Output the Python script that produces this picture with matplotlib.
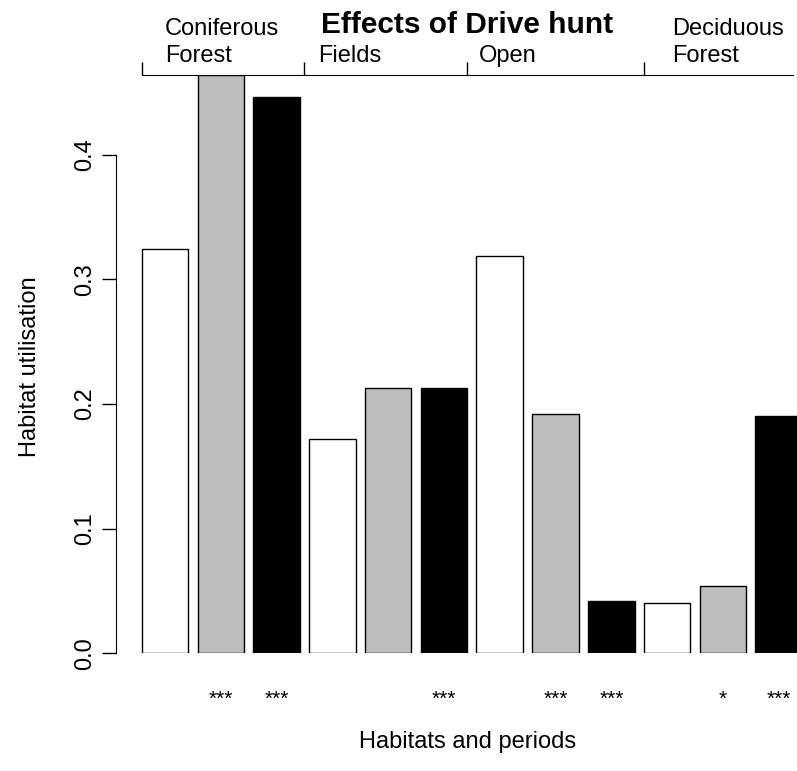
import matplotlib
matplotlib.use("Agg")
import matplotlib.pyplot as plt

# bar heights, 3 periods for each of 4 habitats
heights = [0.324, 0.464, 0.446,
           0.172, 0.213, 0.213,
           0.319, 0.192, 0.042,
           0.040, 0.054, 0.190]
bar_colors = ["white", "#BEBEBE", "black"] * 4
stars = ["", "***", "***", "", "", "***", "", "***", "***", "", "*", "***"]

habitat_ticks = [0.2, 3.7, 7.2, 11.0]
habitat_line1 = ["Coniferous", "", "", "Deciduous"]
habitat_line2 = ["Forest", "Fields", "Open", "Forest"]
habitat_text_x = [0.70, 3.99, 7.45, 11.6]

plt.rcParams["font.family"] = ["Liberation Sans", "DejaVu Sans"]

fig = plt.figure(figsize=(7.97, 7.71), dpi=100)
ax = fig.add_axes([0.1452, 0.1527, 0.882, 0.750])

# R barplot layout: width 1, space 0.2
lefts = [0.2 + 1.2 * i for i in range(len(heights))]
centers = [l + 0.5 for l in lefts]
ax.bar(centers, heights, width=1.0, color=bar_colors, edgecolor="black", linewidth=1.0)

ax.set_xlim(-0.36, 14.76)
ax.set_ylim(0, 0.464)

# left axis
ax.set_yticks([0.0, 0.1, 0.2, 0.3, 0.4])
ax.set_yticklabels(["0.0", "0.1", "0.2", "0.3", "0.4"], rotation=90, va="center", fontsize=17)
ax.tick_params(axis="y", direction="out", length=10, width=1.0, pad=4)
ax.spines["left"].set_bounds(0, 0.4)
ax.spines["right"].set_visible(False)
ax.spines["bottom"].set_visible(False)

# top axis with habitat ticks
ax.xaxis.set_ticks_position("top")
ax.set_xticks(habitat_ticks)
ax.set_xticklabels([""] * len(habitat_ticks))
ax.tick_params(axis="x", direction="out", length=9.5, width=1.0)
ax.spines["top"].set_bounds(0.2, 14.2)

tr = ax.get_xaxis_transform()
for x, l1, l2 in zip(habitat_text_x, habitat_line1, habitat_line2):
    if l1:
        ax.text(x, 1.069, l1, transform=tr, ha="left", va="baseline", fontsize=17)
    ax.text(x, 1.0225, l2, transform=tr, ha="left", va="baseline", fontsize=17)

ax.text(0.5, 1.072, "Effects of Drive hunt", transform=ax.transAxes,
        ha="center", va="baseline", fontsize=21.5, fontweight="bold")

# significance stars under bars
for c, s in zip(centers, stars):
    if s:
        ax.text(c, -0.08, s, transform=tr, ha="center", va="center", fontsize=15)

ax.text(0.5, -0.153, "Habitats and periods", transform=ax.transAxes,
        ha="center", va="center", fontsize=17)
ax.text(-0.122, 0.495, "Habitat utilisation", transform=ax.transAxes,
        ha="center", va="center", rotation=90, fontsize=17)

fig.savefig("out.png", dpi=100)
